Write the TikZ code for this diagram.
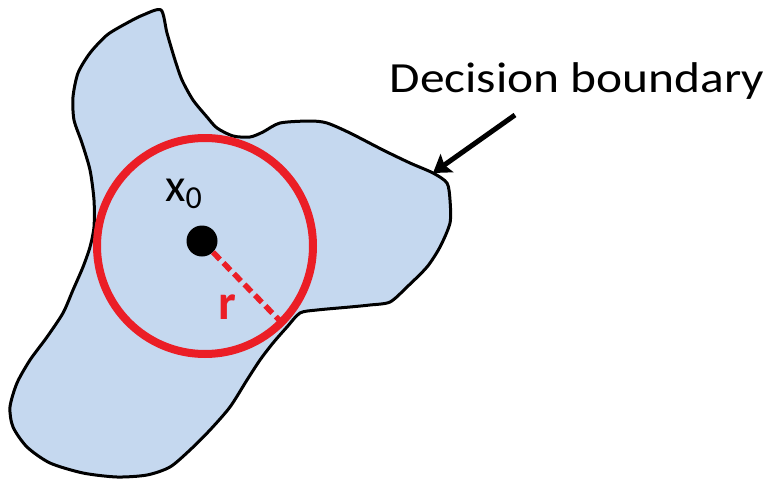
\documentclass[tikz,border=0pt]{standalone}
\usepackage{fontspec}
\setmainfont{Carlito}
\usetikzlibrary{arrows.meta}
\definecolor{regionblue}{RGB}{197,216,239}
\definecolor{ballred}{RGB}{235,30,38}
\tikzset{
  region/.style={fill=regionblue, draw=black, line width=3pt, line join=round},
  ballstyle/.style={circle, draw=ballred, line width=8pt, minimum size=216pt, inner sep=0pt},
  dotstyle/.style={circle, fill=black, minimum size=31pt, inner sep=0pt},
  radiusline/.style={draw=ballred, line width=5.5pt, dash pattern=on 10pt off 5pt},
  pointer/.style={draw=black, line width=5pt, -{Stealth[length=17pt,width=22pt,inset=3pt]}},
  labeltext/.style={inner sep=0pt, font=\fontsize{43}{48}\selectfont},
}
\begin{document}
\begin{tikzpicture}[x=1pt,y=-1pt]
\useasboundingbox (0,0) rectangle (771,479);
\draw[region] plot[smooth cycle, tension=0.45] coordinates {
(161,10) (167,33) (175,60) (182,80) (193,100) (207,117) (217,128) (233,136) (250,137) (263,132) (280,123) (310,121) (327,123) (350,133) (383,150) (410,163) (433,173) (447,183) (450,200) (450,223) (440,247) (427,267) (407,287) (390,302) (370,305) (350,307) (317,310) (300,313) (287,327) (273,343) (260,360) (247,380) (230,407) (210,430) (190,450) (170,467) (147,475) (117,477) (83,473) (50,463) (27,447) (13,427) (10,407) (17,383) (30,360) (47,337) (63,313) (73,290) (83,267) (90,247) (94,227) (94,200) (90,170) (82,143) (74,120) (73,97) (78,73) (90,53) (107,35) (127,23) (143,15)};
\node[ballstyle] (ball) at (205,246) {};
\node[dotstyle] (dot) at (202,241) {};
\draw[radiusline] (dot) -- (ball.-45);
\node[labeltext, anchor=base west, font=\fontsize{47}{50}\selectfont] (xlabel) at (165,201) {x\raisebox{-7pt}{\fontsize{32}{34}\selectfont 0}};
\node[labeltext, anchor=base, text=ballred, font=\fontsize{50}{54}\selectfont\bfseries] (rlabel) at (227,319) {r};
\node[labeltext, anchor=base] (db) at (577,92) {\scalebox{1.15}[1]{Decision boundary}};
\coordinate (tip) at (433,173);
\coordinate (tail) at (515,115);
\draw[pointer] (tail) -- (tip);
\end{tikzpicture}
\end{document}
